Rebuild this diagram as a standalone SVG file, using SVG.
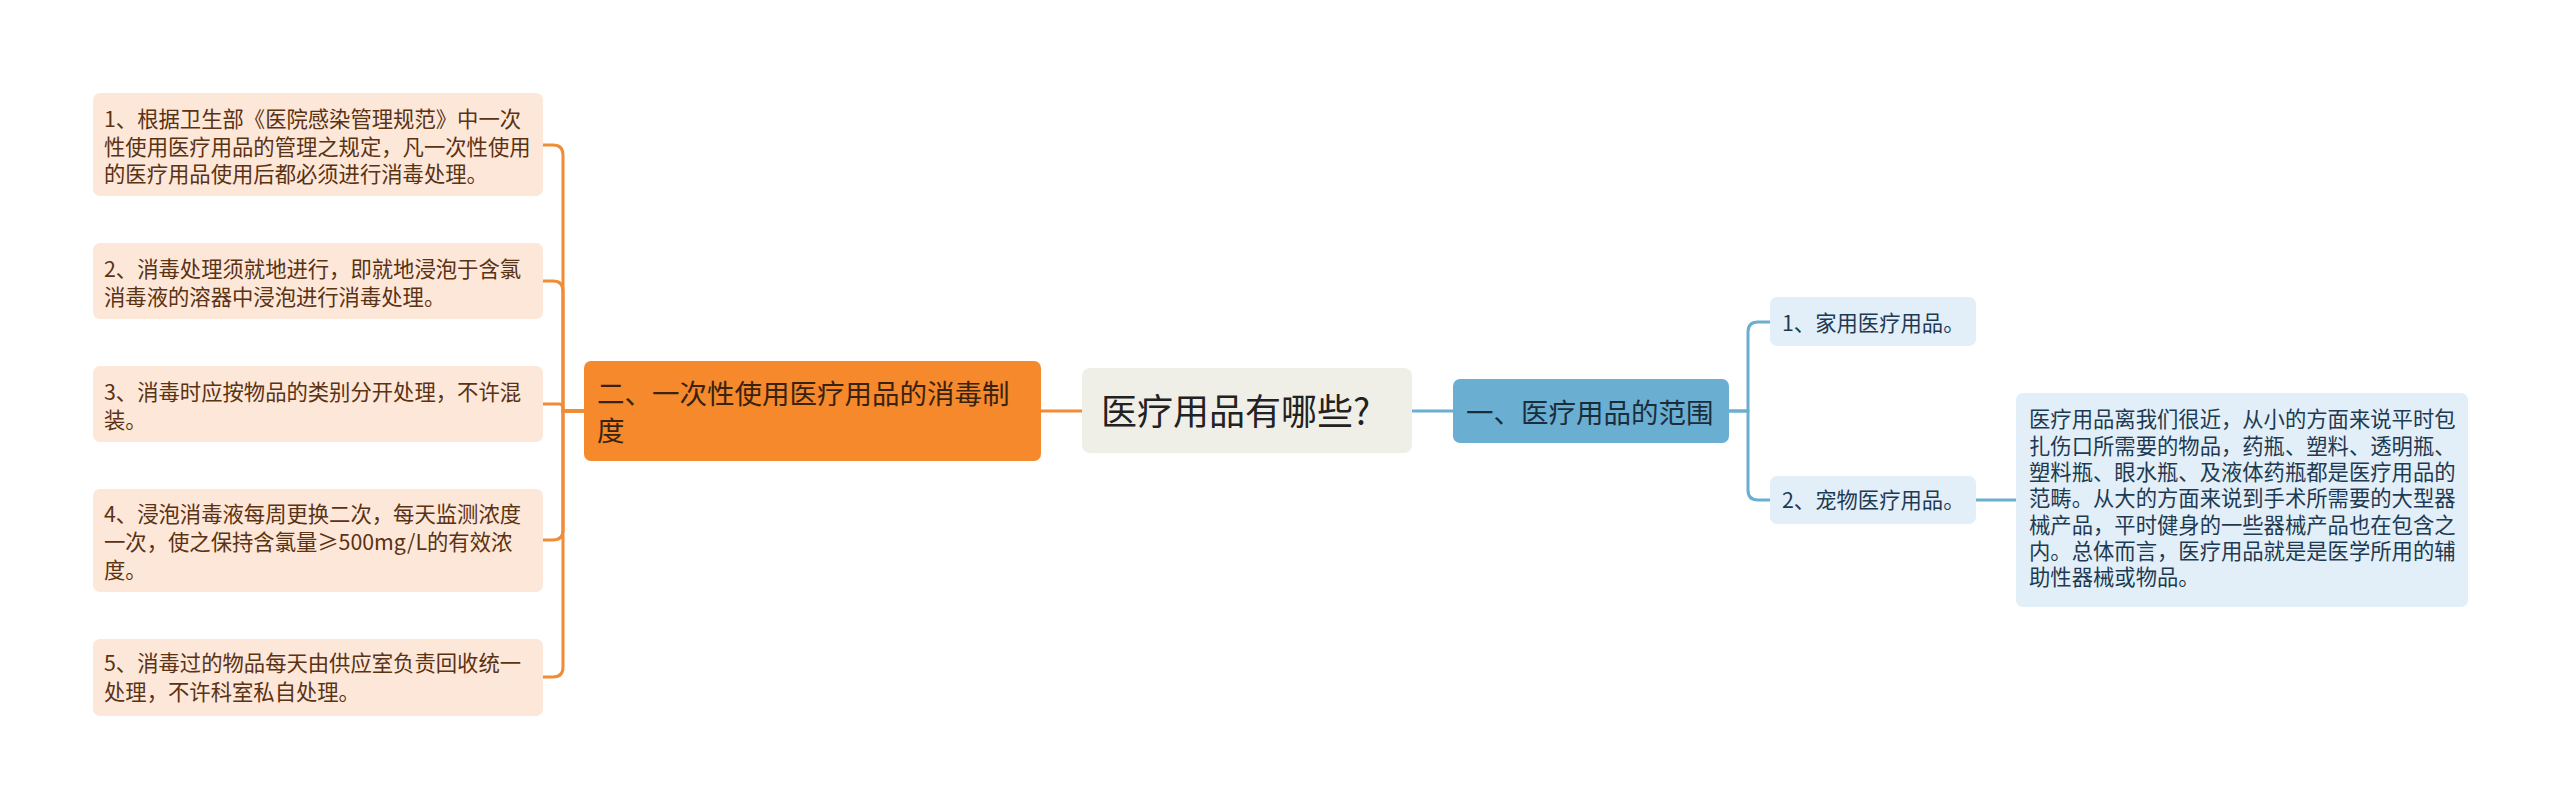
<svg xmlns="http://www.w3.org/2000/svg" width="2560" height="808" viewBox="0 0 2560 808">
<style>
text{font-family:"Noto Sans CJK SC","Noto Sans",sans-serif;}
.leaf{fill:#fde7d8;}
.leaft{font-size:21.33px;fill:#5a3214;}
.bleaf{fill:#e2eff8;}
.bleaft{font-size:21.33px;fill:#1e3a52;}
.oc{fill:none;stroke:#ef8c35;stroke-width:3;}
.bc{fill:none;stroke:#6aaed0;stroke-width:3;}
</style>
<rect width="2560" height="808" fill="#ffffff"/>
<g id="connectors">
<path class="oc" d="M584 411 H563 V155 Q563 145 553 145 H543"/>
<path class="oc" d="M584 411 H563 V291 Q563 281 553 281 H543"/>
<path class="oc" d="M584 411 H563 V408 Q563 404 559 404 H543"/>
<path class="oc" d="M584 411 H563 V530 Q563 540 553 540 H543"/>
<path class="oc" d="M584 411 H563 V667 Q563 677 553 677 H543"/>
<path class="oc" d="M1041 411 H1082"/>
<path class="bc" d="M1412 411 H1453"/>
<path class="bc" d="M1729 411 H1748 V332 Q1748 322 1758 322 H1770"/>
<path class="bc" d="M1729 411 H1748 V490 Q1748 500 1758 500 H1770"/>
<path class="bc" d="M1976 500 H2016"/>
</g>
<g id="root">
<rect x="1082" y="368" width="330" height="85" rx="8" fill="#efefe8"/>
<text x="1101" y="424.5" font-size="36" fill="#222222">医疗用品有哪些?</text>
</g>
<g id="branch-left">
<rect x="584" y="361" width="457" height="100" rx="7" fill="#f5892c"/>
<text x="597" y="403.5" font-size="27.5" fill="#3a2210">二、一次性使用医疗用品的消毒制</text>
<text x="597" y="440.5" font-size="27.5" fill="#3a2210">度</text>
</g>
<g id="branch-right">
<rect x="1453" y="379" width="276" height="64" rx="7" fill="#6aafd2"/>
<text x="1466" y="422.5" font-size="27.5" fill="#1b2d3a">一、医疗用品的范围</text>
</g>
<g id="l1">
<rect class="leaf" x="93" y="93" width="450" height="103" rx="7"/>
<text class="leaft" x="104" y="127">1、根据卫生部《医院感染管理规范》中一次</text>
<text class="leaft" x="104" y="154.5">性使用医疗用品的管理之规定，凡一次性使用</text>
<text class="leaft" x="104" y="182">的医疗用品使用后都必须进行消毒处理。</text>
</g>
<g id="l2">
<rect class="leaf" x="93" y="243" width="450" height="76" rx="7"/>
<text class="leaft" x="104" y="277.3">2、消毒处理须就地进行，即就地浸泡于含氯</text>
<text class="leaft" x="104" y="304.7">消毒液的溶器中浸泡进行消毒处理。</text>
</g>
<g id="l3">
<rect class="leaf" x="93" y="366" width="450" height="76" rx="7"/>
<text class="leaft" x="104" y="399.7">3、消毒时应按物品的类别分开处理，不许混</text>
<text class="leaft" x="104" y="428">装。</text>
</g>
<g id="l4">
<rect class="leaf" x="93" y="489" width="450" height="103" rx="7"/>
<text class="leaft" x="104" y="522">4、浸泡消毒液每周更换二次，每天监测浓度</text>
<text class="leaft" x="104" y="549.7">一次，使之保持含氯量≥500mg/L的有效浓</text>
<text class="leaft" x="104" y="578">度。</text>
</g>
<g id="l5">
<rect class="leaf" x="93" y="639" width="450" height="77" rx="7"/>
<text class="leaft" x="104" y="671.3">5、消毒过的物品每天由供应室负责回收统一</text>
<text class="leaft" x="104" y="699.7">处理，不许科室私自处理。</text>
</g>
<g id="r1">
<rect class="bleaf" x="1770" y="297" width="206" height="49" rx="7"/>
<text class="bleaft" x="1782" y="331">1、家用医疗用品。</text>
</g>
<g id="r2">
<rect class="bleaf" x="1770" y="476" width="206" height="48" rx="7"/>
<text class="bleaft" x="1782" y="508">2、宠物医疗用品。</text>
</g>
<g id="r2a">
<rect class="bleaf" x="2016" y="393" width="452" height="214" rx="7"/>
<text class="bleaft" x="2029" y="427.3">医疗用品离我们很近，从小的方面来说平时包</text>
<text class="bleaft" x="2029" y="453.7">扎伤口所需要的物品，药瓶、塑料、透明瓶、</text>
<text class="bleaft" x="2029" y="480.3">塑料瓶、眼水瓶、及液体药瓶都是医疗用品的</text>
<text class="bleaft" x="2029" y="506.3">范畴。从大的方面来说到手术所需要的大型器</text>
<text class="bleaft" x="2029" y="533">械产品，平时健身的一些器械产品也在包含之</text>
<text class="bleaft" x="2029" y="559">内。总体而言，医疗用品就是是医学所用的辅</text>
<text class="bleaft" x="2029" y="585.3">助性器械或物品。</text>
</g>
</svg>
